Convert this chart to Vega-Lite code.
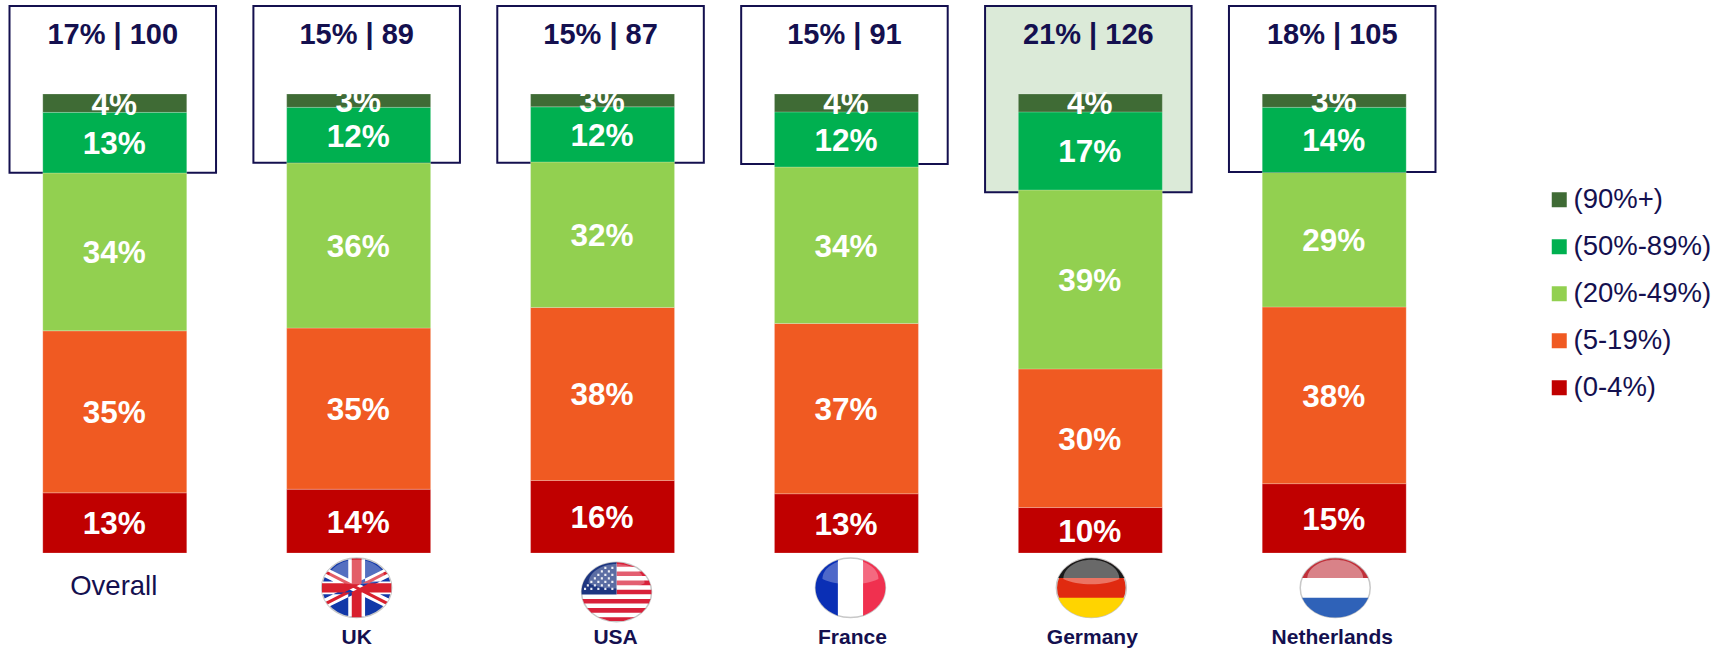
{"$schema":"https://vega.github.io/schema/vega-lite/v6.json","width":1445,"height":648,"padding":0,"background":"white","config":{"view":{"stroke":null}},
"datasets":{
"segs":[
{"country":"Overall","band":"(0-4%)","rank":1,"share":13.1,"label":"13%"},{"country":"Overall","band":"(5-19%)","rank":2,"share":35.3,"label":"35%"},{"country":"Overall","band":"(20%-49%)","rank":3,"share":34.4,"label":"34%"},{"country":"Overall","band":"(50%-89%)","rank":4,"share":13.2,"label":"13%"},{"country":"Overall","band":"(90%+)","rank":5,"share":4.0,"label":"4%"},
{"country":"UK","band":"(0-4%)","rank":1,"share":13.9,"label":"14%"},{"country":"UK","band":"(5-19%)","rank":2,"share":35.1,"label":"35%"},{"country":"UK","band":"(20%-49%)","rank":3,"share":36.0,"label":"36%"},{"country":"UK","band":"(50%-89%)","rank":4,"share":12.1,"label":"12%"},{"country":"UK","band":"(90%+)","rank":5,"share":2.9,"label":"3%"},
{"country":"USA","band":"(0-4%)","rank":1,"share":15.8,"label":"16%"},{"country":"USA","band":"(5-19%)","rank":2,"share":37.7,"label":"38%"},{"country":"USA","band":"(20%-49%)","rank":3,"share":31.7,"label":"32%"},{"country":"USA","band":"(50%-89%)","rank":4,"share":12.0,"label":"12%"},{"country":"USA","band":"(90%+)","rank":5,"share":2.8,"label":"3%"},
{"country":"France","band":"(0-4%)","rank":1,"share":12.9,"label":"13%"},{"country":"France","band":"(5-19%)","rank":2,"share":37.1,"label":"37%"},{"country":"France","band":"(20%-49%)","rank":3,"share":34.1,"label":"34%"},{"country":"France","band":"(50%-89%)","rank":4,"share":12.0,"label":"12%"},{"country":"France","band":"(90%+)","rank":5,"share":3.9,"label":"4%"},
{"country":"Germany","band":"(0-4%)","rank":1,"share":9.9,"label":"10%"},{"country":"Germany","band":"(5-19%)","rank":2,"share":30.2,"label":"30%"},{"country":"Germany","band":"(20%-49%)","rank":3,"share":39.0,"label":"39%"},{"country":"Germany","band":"(50%-89%)","rank":4,"share":17.0,"label":"17%"},{"country":"Germany","band":"(90%+)","rank":5,"share":3.9,"label":"4%"},
{"country":"Netherlands","band":"(0-4%)","rank":1,"share":15.1,"label":"15%"},{"country":"Netherlands","band":"(5-19%)","rank":2,"share":38.5,"label":"38%"},{"country":"Netherlands","band":"(20%-49%)","rank":3,"share":29.3,"label":"29%"},{"country":"Netherlands","band":"(50%-89%)","rank":4,"share":14.2,"label":"14%"},{"country":"Netherlands","band":"(90%+)","rank":5,"share":2.9,"label":"3%"}
],
"tops":[
{"country":"Overall","summary":"17% | 100","base":82.85,"top":119.2,"highlight":"no"},
{"country":"UK","summary":"15% | 89","base":85.0,"top":119.2,"highlight":"no"},
{"country":"USA","summary":"15% | 87","base":85.0,"top":119.2,"highlight":"no"},
{"country":"France","summary":"15% | 91","base":84.75,"top":119.2,"highlight":"no"},
{"country":"Germany","summary":"21% | 126","base":78.6,"top":119.2,"highlight":"yes"},
{"country":"Netherlands","summary":"18% | 105","base":83.0,"top":119.2,"highlight":"no"}
]},
"encoding":{"x":{"field":"country","type":"nominal","axis":null,"scale":{"domain":["Overall","UK","USA","France","Germany","Netherlands"],"paddingInner":0.1532,"paddingOuter":0.039}}},
"layer":[
{"data":{"name":"tops"},"mark":{"type":"bar","width":{"band":1},"stroke":"#14104f","strokeWidth":2},"encoding":{"y":{"field":"base","type":"quantitative","axis":null,"scale":{"domain":[-20.7,120.48]}},"y2":{"field":"top"},"fill":{"field":"highlight","type":"nominal","legend":null,"scale":{"domain":["no","yes"],"range":["#ffffff","#dbead8"]}}}},
{"data":{"name":"tops"},"mark":{"type":"text","font":"Liberation Sans","fontWeight":"bold","fontSize":29,"color":"#14104f","baseline":"middle","dy":1},"encoding":{"y":{"datum":113.1,"type":"quantitative","scale":{"domain":[-20.7,120.48]}},"text":{"field":"summary"}}},
{"data":{"name":"segs"},"mark":{"type":"bar","width":{"band":0.697},"xOffset":2,"stroke":"#ffffff","strokeOpacity":0.3,"strokeWidth":0.7},"encoding":{"y":{"field":"share","type":"quantitative","stack":"zero","scale":{"domain":[-20.7,120.48]}},"order":{"field":"rank","type":"quantitative"},"color":{"field":"band","type":"nominal","scale":{"domain":["(90%+)","(50%-89%)","(20%-49%)","(5-19%)","(0-4%)"],"range":["#3f6b35","#00b050","#92d050","#f05a22","#c00000"]},"legend":{"title":null,"orient":"none","legendX":1545.5,"legendY":186,"symbolType":"square","symbolSize":225,"symbolStrokeWidth":0,"labelFont":"Liberation Sans","labelFontSize":27.5,"labelColor":"#14104f","labelOffset":0.5,"rowPadding":18,"labelLimit":300}}}},
{"data":{"name":"segs"},"mark":{"type":"text","font":"Liberation Sans","fontWeight":"bold","fontSize":31.5,"color":"#ffffff","baseline":"middle","xOffset":1.5,"dy":2.5},"encoding":{"y":{"field":"share","type":"quantitative","stack":"zero","bandPosition":0.5,"scale":{"domain":[-20.7,120.48]}},"order":{"field":"rank","type":"quantitative"},"detail":{"field":"band"},"text":{"field":"label"}}},
{"data":{"values":[{"country":"Overall","name":"Overall"}]},"mark":{"type":"text","font":"Liberation Sans","fontSize":27.5,"color":"#14104f","baseline":"middle","dy":1,"xOffset":1},"encoding":{"y":{"datum":-7.2,"type":"quantitative","scale":{"domain":[-20.7,120.48]}},"text":{"field":"name"}}},
{"data":{"values":[{"country":"UK"},{"country":"Netherlands"}]},"mark":{"type":"text","font":"Liberation Sans","fontWeight":"bold","fontSize":21,"color":"#14104f","baseline":"middle","dy":0.5},"encoding":{"y":{"datum":-18.5,"type":"quantitative","scale":{"domain":[-20.7,120.48]}},"text":{"field":"country"}}},
{"data":{"values":[{"country":"Germany"}]},"mark":{"type":"text","font":"Liberation Sans","fontWeight":"bold","fontSize":21,"color":"#14104f","baseline":"middle","dy":0.5,"xOffset":4},"encoding":{"y":{"datum":-18.5,"type":"quantitative","scale":{"domain":[-20.7,120.48]}},"text":{"field":"country"}}},
{"data":{"values":[{"country":"USA"}]},"mark":{"type":"text","font":"Liberation Sans","fontWeight":"bold","fontSize":21,"color":"#14104f","baseline":"middle","dy":0.5,"xOffset":15},"encoding":{"y":{"datum":-18.5,"type":"quantitative","scale":{"domain":[-20.7,120.48]}},"text":{"field":"country"}}},
{"data":{"values":[{"country":"France"}]},"mark":{"type":"text","font":"Liberation Sans","fontWeight":"bold","fontSize":21,"color":"#14104f","baseline":"middle","dy":0.5,"xOffset":8},"encoding":{"y":{"datum":-18.5,"type":"quantitative","scale":{"domain":[-20.7,120.48]}},"text":{"field":"country"}}},

{"data":{"values":[{"country":"UK"}]},"mark":{"type":"point","filled":true,"size":4900,"opacity":1,"shape":"M-1,0 A1,0.85 0 1 1 1,0 A1,0.85 0 1 1 -1,0 Z","fill":"#1238a8","stroke":"#c8c8c8","strokeWidth":1.5},"encoding":{"y":{"datum":-7.6,"type":"quantitative","scale":{"domain":[-20.7,120.48]}}}},
{"data":{"values":[{"country":"UK"}]},"mark":{"type":"point","filled":true,"size":4900,"opacity":1,"shape":"M-0.93,-0.31 L-0.78,-0.53 L0.93,0.31 L0.78,0.53 Z M0.93,-0.31 L0.78,-0.53 L-0.93,0.31 L-0.78,0.53 Z M-0.24,-0.82 L0.24,-0.82 L0.24,-0.18 L0.98,-0.18 L0.98,0.18 L0.24,0.18 L0.24,0.82 L-0.24,0.82 L-0.24,0.18 L-0.98,0.18 L-0.98,-0.18 L-0.24,-0.18 Z","fill":"#ffffff"},"encoding":{"y":{"datum":-7.6,"type":"quantitative","scale":{"domain":[-20.7,120.48]}}}},
{"data":{"values":[{"country":"UK"}]},"mark":{"type":"point","filled":true,"size":4900,"opacity":1,"shape":"M-0.88,-0.4 L-0.82,-0.47 L0.88,0.4 L0.82,0.47 Z M0.88,-0.4 L0.82,-0.47 L-0.88,0.4 L-0.82,0.47 Z M-0.14,-0.84 L0.14,-0.84 L0.14,-0.13 L0.99,-0.13 L0.99,0.13 L0.14,0.13 L0.14,0.84 L-0.14,0.84 L-0.14,0.13 L-0.99,0.13 L-0.99,-0.13 L-0.14,-0.13 Z","fill":"#d8202e"},"encoding":{"y":{"datum":-7.6,"type":"quantitative","scale":{"domain":[-20.7,120.48]}}}},
{"data":{"values":[{"country":"UK"}]},"mark":{"type":"point","filled":true,"size":4900,"opacity":0.28,"shape":"M-0.8,-0.25 A0.8,0.55 0 0 1 0.8,-0.25 C0.4,-0.05 -0.4,-0.05 -0.8,-0.25 Z","fill":"#ffffff"},"encoding":{"y":{"datum":-7.6,"type":"quantitative","scale":{"domain":[-20.7,120.48]}}}},

{"data":{"values":[{"country":"USA"}]},"mark":{"type":"point","filled":true,"size":4900,"opacity":1,"xOffset":16,"shape":"M-1,0 A1,0.85 0 1 1 1,0 A1,0.85 0 1 1 -1,0 Z","fill":"#ffffff","stroke":"#c8c8c8","strokeWidth":1.5},"encoding":{"y":{"datum":-8.5,"type":"quantitative","scale":{"domain":[-20.7,120.48]}}}},
{"data":{"values":[{"country":"USA"}]},"mark":{"type":"point","filled":true,"size":4900,"opacity":1,"xOffset":16,"shape":"M0,-0.85 L0.2,-0.83 L0.533,-0.719 L0,-0.719 Z M0,-0.588 L0.722,-0.588 L0.843,-0.457 L0,-0.457 Z M0,-0.326 L0.923,-0.326 L0.973,-0.195 L0,-0.195 Z M0,-0.064 L0.997,-0.064 L0.997,0.067 L0,0.067 Z M-0.973,0.198 L0.973,0.198 L0.922,0.329 L-0.922,0.329 Z M-0.84,0.46 L0.84,0.46 L0.72,0.591 L-0.72,0.591 Z M-0.528,0.722 L0.528,0.722 L0.2,0.83 L-0.2,0.83 Z","fill":"#d8213a"},"encoding":{"y":{"datum":-8.5,"type":"quantitative","scale":{"domain":[-20.7,120.48]}}}},
{"data":{"values":[{"country":"USA"}]},"mark":{"type":"point","filled":true,"size":4900,"opacity":1,"xOffset":16,"shape":"M0,-0.85 A1,0.85 0 0 0 -0.997,0.07 L0,0.07 Z","fill":"#1d3580"},"encoding":{"y":{"datum":-8.5,"type":"quantitative","scale":{"domain":[-20.7,120.48]}}}},
{"data":{"values":[{"country":"USA"}]},"mark":{"type":"point","filled":true,"size":4900,"opacity":0.9,"xOffset":16,"shape":"M-0.15,-0.72 h0.06 v0.06 h-0.06 Z M-0.35,-0.72 h0.06 v0.06 h-0.06 Z M-0.15,-0.52 h0.06 v0.06 h-0.06 Z M-0.35,-0.52 h0.06 v0.06 h-0.06 Z M-0.55,-0.52 h0.06 v0.06 h-0.06 Z M-0.15,-0.32 h0.06 v0.06 h-0.06 Z M-0.35,-0.32 h0.06 v0.06 h-0.06 Z M-0.55,-0.32 h0.06 v0.06 h-0.06 Z M-0.75,-0.32 h0.06 v0.06 h-0.06 Z M-0.15,-0.12 h0.06 v0.06 h-0.06 Z M-0.35,-0.12 h0.06 v0.06 h-0.06 Z M-0.55,-0.12 h0.06 v0.06 h-0.06 Z M-0.75,-0.12 h0.06 v0.06 h-0.06 Z M-0.93,-0.12 h0.06 v0.06 h-0.06 Z M-0.25,-0.62 h0.06 v0.06 h-0.06 Z M-0.45,-0.62 h0.06 v0.06 h-0.06 Z M-0.25,-0.42 h0.06 v0.06 h-0.06 Z M-0.45,-0.42 h0.06 v0.06 h-0.06 Z M-0.65,-0.42 h0.06 v0.06 h-0.06 Z M-0.25,-0.22 h0.06 v0.06 h-0.06 Z M-0.45,-0.22 h0.06 v0.06 h-0.06 Z M-0.65,-0.22 h0.06 v0.06 h-0.06 Z M-0.85,-0.22 h0.06 v0.06 h-0.06 Z","fill":"#ffffff"},"encoding":{"y":{"datum":-8.5,"type":"quantitative","scale":{"domain":[-20.7,120.48]}}}},
{"data":{"values":[{"country":"USA"}]},"mark":{"type":"point","filled":true,"size":4900,"opacity":0.28,"xOffset":16,"shape":"M-0.8,-0.25 A0.8,0.55 0 0 1 0.8,-0.25 C0.4,-0.05 -0.4,-0.05 -0.8,-0.25 Z","fill":"#ffffff"},"encoding":{"y":{"datum":-8.5,"type":"quantitative","scale":{"domain":[-20.7,120.48]}}}},

{"data":{"values":[{"country":"France"}]},"mark":{"type":"point","filled":true,"size":4900,"opacity":1,"xOffset":6,"shape":"M-1,0 A1,0.85 0 1 1 1,0 A1,0.85 0 1 1 -1,0 Z","fill":"#ffffff","stroke":"#c8c8c8","strokeWidth":1.5},"encoding":{"y":{"datum":-7.6,"type":"quantitative","scale":{"domain":[-20.7,120.48]}}}},
{"data":{"values":[{"country":"France"}]},"mark":{"type":"point","filled":true,"size":4900,"opacity":1,"xOffset":6,"shape":"M-0.36,-0.793 A1,0.85 0 0 0 -0.36,0.793 Z","fill":"#0a2fb5"},"encoding":{"y":{"datum":-7.6,"type":"quantitative","scale":{"domain":[-20.7,120.48]}}}},
{"data":{"values":[{"country":"France"}]},"mark":{"type":"point","filled":true,"size":4900,"opacity":1,"xOffset":6,"shape":"M0.36,-0.793 A1,0.85 0 0 1 0.36,0.793 Z","fill":"#f0304f"},"encoding":{"y":{"datum":-7.6,"type":"quantitative","scale":{"domain":[-20.7,120.48]}}}},
{"data":{"values":[{"country":"France"}]},"mark":{"type":"point","filled":true,"size":4900,"opacity":0.28,"xOffset":6,"shape":"M-0.8,-0.25 A0.8,0.55 0 0 1 0.8,-0.25 C0.4,-0.05 -0.4,-0.05 -0.8,-0.25 Z","fill":"#ffffff"},"encoding":{"y":{"datum":-7.6,"type":"quantitative","scale":{"domain":[-20.7,120.48]}}}},

{"data":{"values":[{"country":"Germany"}]},"mark":{"type":"point","filled":true,"size":4900,"opacity":1,"xOffset":3,"shape":"M-1,0 A1,0.85 0 1 1 1,0 A1,0.85 0 1 1 -1,0 Z","fill":"#e02a10","stroke":"#c8c8c8","strokeWidth":1.5},"encoding":{"y":{"datum":-7.6,"type":"quantitative","scale":{"domain":[-20.7,120.48]}}}},
{"data":{"values":[{"country":"Germany"}]},"mark":{"type":"point","filled":true,"size":4900,"opacity":1,"xOffset":3,"shape":"M-0.944,-0.28 A1,0.85 0 0 1 0.944,-0.28 Z","fill":"#1a1a1a"},"encoding":{"y":{"datum":-7.6,"type":"quantitative","scale":{"domain":[-20.7,120.48]}}}},
{"data":{"values":[{"country":"Germany"}]},"mark":{"type":"point","filled":true,"size":4900,"opacity":1,"xOffset":3,"shape":"M-0.944,0.28 A1,0.85 0 0 0 0.944,0.28 Z","fill":"#ffd400"},"encoding":{"y":{"datum":-7.6,"type":"quantitative","scale":{"domain":[-20.7,120.48]}}}},
{"data":{"values":[{"country":"Germany"}]},"mark":{"type":"point","filled":true,"size":4900,"opacity":0.35,"xOffset":3,"shape":"M-0.8,-0.25 A0.8,0.55 0 0 1 0.8,-0.25 C0.4,-0.05 -0.4,-0.05 -0.8,-0.25 Z","fill":"#ffffff"},"encoding":{"y":{"datum":-7.6,"type":"quantitative","scale":{"domain":[-20.7,120.48]}}}},

{"data":{"values":[{"country":"Netherlands"}]},"mark":{"type":"point","filled":true,"size":4900,"opacity":1,"xOffset":3,"shape":"M-1,0 A1,0.85 0 1 1 1,0 A1,0.85 0 1 1 -1,0 Z","fill":"#ffffff","stroke":"#c8c8c8","strokeWidth":1.5},"encoding":{"y":{"datum":-7.6,"type":"quantitative","scale":{"domain":[-20.7,120.48]}}}},
{"data":{"values":[{"country":"Netherlands"}]},"mark":{"type":"point","filled":true,"size":4900,"opacity":1,"xOffset":3,"shape":"M-0.944,-0.28 A1,0.85 0 0 1 0.944,-0.28 Z","fill":"#c0303a"},"encoding":{"y":{"datum":-7.6,"type":"quantitative","scale":{"domain":[-20.7,120.48]}}}},
{"data":{"values":[{"country":"Netherlands"}]},"mark":{"type":"point","filled":true,"size":4900,"opacity":1,"xOffset":3,"shape":"M-0.944,0.28 A1,0.85 0 0 0 0.944,0.28 Z","fill":"#2f62b8"},"encoding":{"y":{"datum":-7.6,"type":"quantitative","scale":{"domain":[-20.7,120.48]}}}},
{"data":{"values":[{"country":"Netherlands"}]},"mark":{"type":"point","filled":true,"size":4900,"opacity":0.4,"xOffset":3,"shape":"M-0.8,-0.25 A0.8,0.55 0 0 1 0.8,-0.25 C0.4,-0.05 -0.4,-0.05 -0.8,-0.25 Z","fill":"#ffffff"},"encoding":{"y":{"datum":-7.6,"type":"quantitative","scale":{"domain":[-20.7,120.48]}}}}
]}
